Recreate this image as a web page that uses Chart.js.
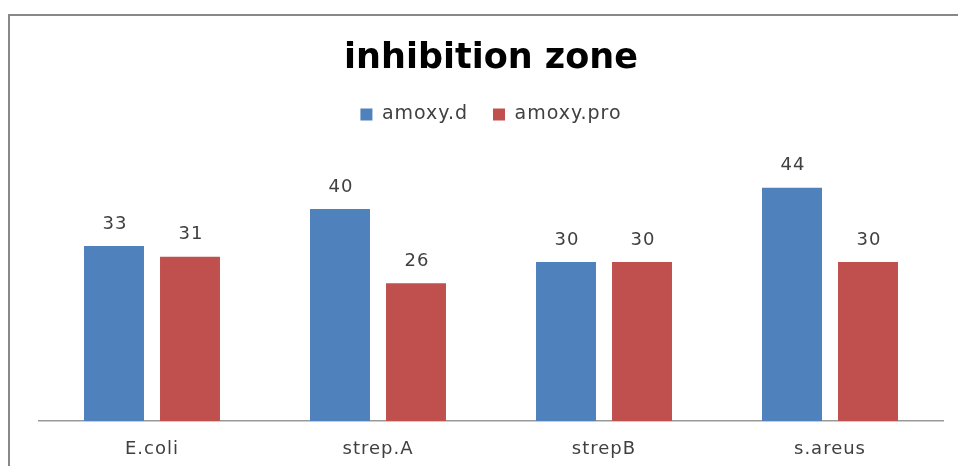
<!DOCTYPE html>
<html>
<head>
<meta charset="utf-8">
<script src="https://cdn.jsdelivr.net/npm/chart.js@4.4.1/dist/chart.umd.min.js"></script>
<style>
  html, body { margin: 0; padding: 0; background: #fff; }
  #wrap { position: relative; width: 958px; height: 466px; overflow: hidden; }
  #frame { position: absolute; left: 8px; top: 14px; width: 980px; height: 500px; border: 2px solid #888; box-sizing: border-box; }
  #box { position: absolute; left: 0; top: 0; width: 958px; height: 466px; }
</style>
</head>
<body>
<div id="wrap">
  <div id="frame"></div>
  <div id="box"><canvas id="chart"></canvas></div>
</div>
<script>
const categories = ['E.coli', 'strep.A', 'strepB', 's.areus'];
const amoxyD = [33, 40, 30, 44];
const amoxyPro = [31, 26, 30, 30];

const FONT = 'DejaVu Sans';
const SPACING = '1px';

// wide text like the original: letter spacing for everything but the title
const spacingPlugin = {
    id: 'spacing',
    beforeLayout(chart) { chart.ctx.letterSpacing = SPACING; },
    beforeDraw(chart) {
        chart.ctx.letterSpacing = SPACING;
        const tb = chart.titleBlock;
        if (tb && !tb._wrapped) {
            const orig = tb.draw.bind(tb);
            tb.draw = function () {
                const ctx = chart.ctx;
                ctx.letterSpacing = '0px';
                orig();
                ctx.letterSpacing = SPACING;
            };
            tb._wrapped = true;
        }
    }
};

// fixed legend height, so the plot starts where it does in the picture
const legendHeightPlugin = {
    id: 'legendHeight',
    afterInit(chart) {
        const lg = chart.legend;
        const fit = lg.fit.bind(lg);
        lg.fit = function () {
            fit();
            this.height = 76;
        };
    }
};

const valueLabels = {
    id: 'valueLabels',
    afterDatasetsDraw(chart) {
        const ctx = chart.ctx;
        ctx.save();
        ctx.letterSpacing = SPACING;
        ctx.font = '18px "' + FONT + '"';
        ctx.fillStyle = '#404040';
        ctx.textAlign = 'center';
        ctx.textBaseline = 'middle';
        chart.data.datasets.forEach((ds, i) => {
            chart.getDatasetMeta(i).data.forEach((bar, j) => {
                ctx.fillText(ds.data[j], bar.x + 1, bar.y - 22);
            });
        });
        ctx.restore();
    }
};

new Chart(document.getElementById('chart'), {
    type: 'bar',
    data: {
        labels: categories,
        datasets: [
            { label: 'amoxy.d', data: amoxyD, backgroundColor: '#4F81BD' },
            { label: 'amoxy.pro', data: amoxyPro, backgroundColor: '#C0504D' }
        ]
    },
    options: {
        responsive: true,
        maintainAspectRatio: false,
        animation: false,
        categoryPercentage: 0.6726,
        barPercentage: 0.789,
        layout: { padding: { left: 39, right: 15, top: 0, bottom: 0 } },
        plugins: {
            tooltip: { enabled: false },
            title: {
                display: true,
                text: 'inhibition zone',
                color: '#000',
                font: { family: FONT, size: 35, weight: 'bold' },
                padding: { top: 38, bottom: 0 }
            },
            legend: {
                position: 'top',
                labels: {
                    boxWidth: 12,
                    boxHeight: 12,
                    padding: 25,
                    color: '#404040',
                    font: { family: FONT, size: 19 }
                }
            }
        },
        scales: {
            x: {
                grid: { display: false, drawTicks: false },
                border: { display: true, color: '#999', width: 1.5 },
                ticks: { color: '#404040', padding: 18, font: { family: FONT, size: 18 } },
                afterFit(scale) { scale.height = 45; }
            },
            y: {
                display: false,
                min: 0,
                max: 50
            }
        }
    },
    plugins: [spacingPlugin, legendHeightPlugin, valueLabels]
});
</script>
</body>
</html>
